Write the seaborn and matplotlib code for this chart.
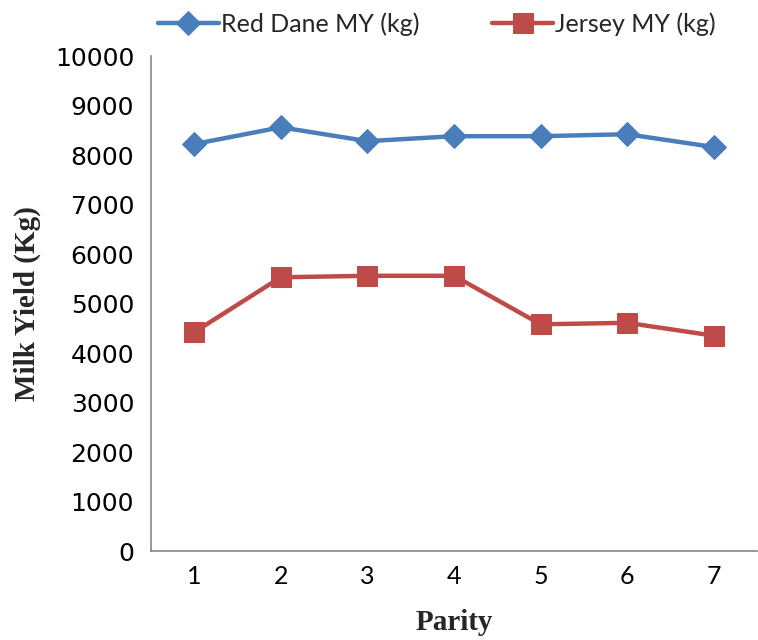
import numpy as np
import pandas as pd
import seaborn as sns
import matplotlib.pyplot as plt
from matplotlib.ticker import FixedLocator

# 数据
parity = [1, 2, 3, 4, 5, 6, 7]
red_dane = [8220, 8560, 8280, 8380, 8380, 8420, 8160]
jersey = [4420, 5530, 5560, 5560, 4580, 4610, 4350]

df = pd.DataFrame({"Parity": parity,
                   "Red Dane MY (kg)": red_dane,
                   "Jersey MY (kg)": jersey})

sns.set_style("white")
plt.rcParams['font.family'] = ['Lato', 'DejaVu Sans']

fig = plt.figure(figsize=(7.58, 6.4), dpi=100)
ax = fig.add_axes([0.199, 0.139, 0.80, 0.7735])

sns.lineplot(data=df, x="Parity", y="Red Dane MY (kg)", ax=ax, color="#4A7EBB",
             marker="D", markersize=12, markeredgecolor="#4A7EBB", linewidth=3.2,
             label="Red Dane MY (kg)")
sns.lineplot(data=df, x="Parity", y="Jersey MY (kg)", ax=ax, color="#BE4B48",
             marker="s", markersize=15, markeredgecolor="#BE4B48", linewidth=3.2,
             label="Jersey MY (kg)")

ax.set_xlim(0.5, 7.5)
ax.set_ylim(0, 10000)
ax.set_yticks(np.arange(0, 10001, 1000))
ax.set_xticks(parity)
ax.xaxis.set_minor_locator(FixedLocator(np.arange(0.5, 8, 1)))
ax.tick_params(axis='x', which='major', length=0, labelsize=18, pad=10, colors='black')
ax.tick_params(axis='x', which='minor', length=6, width=1, color='#868686')
ax.tick_params(axis='y', length=6, width=1, color='#868686', labelsize=18, pad=6)
for t in ax.get_yticklabels():
    t.set_color('black')
    t.set_fontfamily('DejaVu Sans')

for s in ['top', 'right']:
    ax.spines[s].set_visible(False)
for s in ['left', 'bottom']:
    ax.spines[s].set_color('#868686')
    ax.spines[s].set_linewidth(1.2)

ax.set_xlabel("Parity", fontfamily="Liberation Serif", fontweight="bold", fontsize=21, labelpad=15)
ax.set_ylabel("Milk Yield (Kg)", fontfamily="Liberation Serif", fontweight="bold", fontsize=21, labelpad=10)

ax.legend(loc="lower left", bbox_to_anchor=(-0.005, 1.02), ncol=2, frameon=False,
          fontsize=18, handlelength=2.45, handletextpad=0.08, columnspacing=2.9,
          borderaxespad=0)

fig.savefig("out.png", dpi=100)
